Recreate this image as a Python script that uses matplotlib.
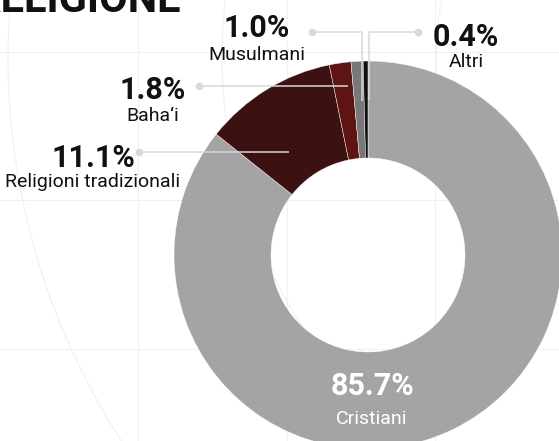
import matplotlib.pyplot as plt
from matplotlib.patches import Circle

# dati
labels = ['Cristiani', 'Religioni tradizionali', 'Baha\u2018i', 'Musulmani', 'Altri']
values = [85.7, 11.1, 1.8, 1.0, 0.4]
colors = ['#a4a4a4', '#3c1112', '#5f1414', '#787878', '#111111']

W, H = 559, 441
FONT = ['Roboto', 'DejaVu Sans']

fig = plt.figure(figsize=(W / 100, H / 100), dpi=100)
fig.patch.set_facecolor('white')
ax = fig.add_axes([0, 0, 1, 1])

def Y(y):
    # pixel dall'alto -> coordinata dati
    return H - y

# sfondo: griglia e cerchi leggeri
for gx in [138, 287, 435]:
    ax.plot([gx, gx], [0, H], color='#f1f1f1', lw=0.8, zorder=0)
for gy in [52, 200, 349]:
    ax.plot([0, W], [Y(gy), Y(gy)], color='#f1f1f1', lw=0.8, zorder=0)
for r in [278, 492, 706]:
    ax.add_patch(Circle((714, Y(57)), r, fill=False, ec='#f0f0f0', lw=0.8, zorder=0))

# ciambella
cx, cy, R = 368, Y(255), 194
ax.pie(values, colors=colors, startangle=90, counterclock=False,
       center=(cx, cy), radius=R,
       wedgeprops=dict(width=R / 2, edgecolor='white', linewidth=0.3))
ax.set_xlim(0, W)
ax.set_ylim(0, H)
ax.set_aspect('equal')
ax.axis('off')

# linee guida
leaders = [
    [(312, 32), (362, 32), (362, 101)],
    [(418, 32), (369, 32), (369, 100)],
    [(199, 86), (348, 86)],
    [(139, 152), (289, 152)],
]
for pts in leaders:
    xs = [p[0] for p in pts]
    ys = [Y(p[1]) for p in pts]
    ax.plot(xs, ys, color='#d8d8dd', lw=1.1, zorder=4, solid_capstyle='butt')
    ax.plot(xs[0], ys[0], 'o', ms=5.5, color='#d8d8dd', mec='none', zorder=4)

# etichette: (indice, x centro, baseline %, baseline nome, colore)
label_pos = [
    (0, 372, 395, 424, 'white'),
    (1, 93, 167, 187, '#111111'),
    (2, 153, 99, 121, '#111111'),
    (3, 257, 37, 60, '#111111'),
    (4, 466, 46, 67, '#111111'),
]
for i, x, yp, yn, c in label_pos:
    ax.text(x, Y(yp), f'{values[i]:.1f}%', ha='center', va='baseline',
            fontsize=22, fontweight='bold', color=c, family=FONT, zorder=5)
    ax.text(x, Y(yn), labels[i], ha='center', va='baseline',
            fontsize=14, color=c, family=FONT, zorder=5)

# titolo (tagliato in alto)
ax.text(-26, Y(12), 'RELIGIONE', ha='left', va='baseline', fontsize=30,
        fontweight='bold', color='#111111', family=FONT)

fig.savefig('out.png', dpi=100, facecolor='white')
